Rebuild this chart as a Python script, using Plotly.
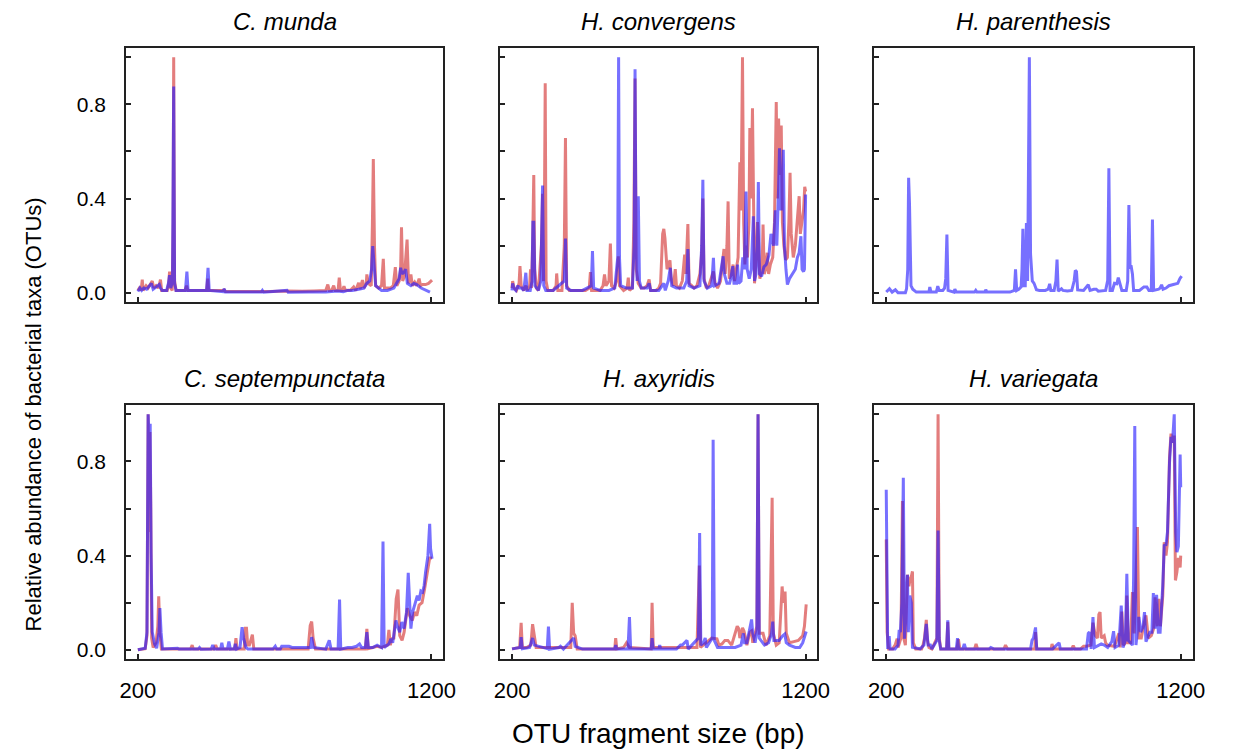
import plotly.graph_objects as go

# Relative abundance of bacterial taxa (OTUs) against OTU fragment size (bp).
# Each series is a list of (fragment size, relative abundance) pairs.

munda_red = [
    (200, .01), (205, .02), (211, .01), (215, .056), (218, .01), (228, .03), (235, .02),
    (243, .04), (249, .05), (254, .02), (262, .03), (270, .02), (277, .056), (281, .01),
    (300, .01), (305, .04), (308, .09), (312, .02), (317, .01), (320, .3), (322, 1.0),
    (325, .05), (330, .01), (360, .01), (366, .03), (370, .01), (434, .01), (438, .06),
    (441, .01), (490, .01), (494, .012), (498, .005), (560, .004), (600, .005), (625, .006),
    (650, .005), (708, .008), (760, .006), (800, .008), (840, .01), (847, .035), (852, .01),
    (860, .01), (867, .03), (872, .01), (882, .01), (886, .064), (890, .01), (897, .01),
    (902, .028), (907, .01), (925, .012), (935, .025), (942, .01), (952, .042), (957, .015),
    (965, .054), (970, .02), (978, .04), (980, .078), (985, .04), (995, .03), (999, .3),
    (1002, .568), (1006, .2), (1010, .03), (1020, .02), (1030, .03), (1036, .144), (1040, .02),
    (1060, .02), (1070, .03), (1077, .109), (1082, .03), (1090, .05), (1095, .1), (1098, .278),
    (1102, .05), (1108, .07), (1112, .13), (1117, .226), (1122, .04), (1130, .078), (1135, .03),
    (1143, .045), (1150, .03), (1158, .06), (1163, .03), (1170, .035), (1180, .035),
    (1190, .04), (1202, .054),
]
munda_blue = [
    (200, .005), (207, .02), (213, .01), (220, .02), (230, .015), (240, .03), (246, .04),
    (252, .015), (265, .03), (273, .035), (277, .02), (283, .01), (298, .01), (304, .04),
    (308, .075), (312, .02), (318, .05), (322, .876), (325, .04), (330, .01), (362, .01),
    (367, .09), (371, .01), (434, .01), (439, .106), (443, .01), (490, .005), (494, .017),
    (498, .003), (560, .002), (620, .003), (624, .01), (628, .002), (708, .01), (712, .002),
    (780, .003), (840, .003), (880, .008), (900, .005), (915, .01), (930, .01), (952, .015),
    (970, .02), (980, .04), (990, .05), (996, .1), (1000, .198), (1005, .11), (1010, .03),
    (1030, .01), (1050, .01), (1072, .02), (1080, .04), (1090, .06), (1095, .106), (1100, .08),
    (1108, .09), (1112, .1), (1118, .04), (1130, .03), (1140, .04), (1150, .035), (1165, .02),
    (1180, .01), (1195, .003),
]

convergens_red = [
    (200, .02), (202, .05), (207, .02), (215, .01), (224, .04), (227, .113), (231, .03),
    (240, .01), (247, .03), (252, .01), (260, .03), (263, .1), (266, .02), (270, .2),
    (274, .50), (277, .1), (283, .02), (290, .01), (300, .2), (304, .42), (307, .05),
    (310, .3), (313, .89), (316, .05), (322, .01), (340, .01), (350, .03), (352, .082),
    (356, .01), (370, .01), (378, .2), (382, .657), (386, .03), (395, .01), (420, .01),
    (450, .01), (463, .02), (467, .088), (471, .01), (480, .01), (500, .01), (510, .03),
    (515, .078), (520, .03), (530, .05), (535, .209), (539, .03), (548, .02), (556, .05),
    (562, .155), (566, .03), (580, .01), (592, .02), (596, .064), (600, .01), (610, .02),
    (615, .3), (619, .91), (623, .1), (630, .04), (640, .02), (650, .02), (660, .03),
    (667, .057), (672, .01), (690, .01), (700, .02), (706, .04), (713, .25), (717, .271),
    (721, .23), (728, .1), (734, .12), (738, .138), (742, .06), (750, .03), (756, .1),
    (760, .03), (770, .02), (780, .05), (788, .162), (792, .08), (799, .292), (803, .04),
    (812, .03), (820, .02), (830, .03), (840, .08), (846, .17), (850, .40), (854, .06),
    (862, .02), (870, .03), (880, .07), (886, .09), (892, .04), (900, .02), (910, .05),
    (915, .12), (919, .155), (922, .186), (926, .08), (932, .2), (936, .388), (940, .06),
    (948, .08), (953, .12), (958, .05), (965, .1), (970, .15), (976, .554), (980, .35),
    (985, 1.0), (989, .3), (993, .12), (997, .2), (1002, .15), (1007, .3), (1010, .70),
    (1014, .4), (1019, .784), (1022, .325), (1026, .04), (1032, .15), (1036, .3), (1039, .24),
    (1044, .06), (1052, .1), (1055, .29), (1059, .08), (1064, .1), (1069, .17), (1074, .08),
    (1080, .12), (1088, .15), (1094, .3), (1100, .81), (1104, .4), (1108, .74), (1112, .5),
    (1117, .71), (1121, .3), (1126, .2), (1132, .14), (1138, .15), (1143, .3), (1147, .51),
    (1151, .25), (1158, .15), (1165, .2), (1172, .3), (1178, .41), (1182, .25), (1187, .3),
    (1193, .35), (1197, .45), (1200, .43),
]
convergens_blue = [
    (200, .01), (202, .04), (206, .02), (213, .01), (220, .03), (225, .02), (232, .02),
    (240, .01), (247, .085), (251, .01), (262, .01), (268, .05), (271, .3), (274, .30),
    (278, .03), (290, .01), (298, .05), (301, .3), (304, .455), (308, .03), (315, .01),
    (340, .01), (378, .05), (382, .23), (386, .02), (400, .01), (440, .01), (470, .03),
    (474, .177), (478, .02), (500, .01), (530, .01), (550, .02), (560, .15), (563, 1.0),
    (566, .15), (570, .03), (590, .02), (610, .02), (616, .2), (619, .949), (622, .3),
    (626, .05), (630, .41), (634, .05), (640, .02), (660, .02), (667, .04), (672, .01),
    (700, .01), (717, .04), (722, .01), (732, .05), (739, .106), (744, .03), (760, .02),
    (785, .02), (795, .05), (799, .186), (803, .03), (820, .02), (840, .03), (846, .2),
    (850, .48), (854, .05), (865, .02), (880, .03), (886, .148), (890, .03), (905, .04),
    (912, .1), (919, .155), (923, .08), (932, .04), (941, .04), (945, .06), (952, .113),
    (956, .04), (965, .04), (968, .12), (972, .04), (980, .05), (986, .15), (991, .1),
    (997, .43), (1001, .1), (1008, .06), (1015, .1), (1022, .325), (1026, .05), (1031, .08),
    (1036, .2), (1039, .47), (1043, .08), (1050, .07), (1058, .11), (1066, .12), (1075, .16),
    (1082, .25), (1091, .2), (1097, .35), (1102, .2), (1108, .45), (1111, .614), (1116, .35),
    (1121, .4), (1124, .607), (1128, .2), (1133, .1), (1138, .035), (1145, .06), (1155, .08),
    (1165, .1), (1172, .15), (1178, .17), (1184, .24), (1188, .1), (1193, .09), (1196, .1),
    (1200, .417),
]

parenthesis_blue = [
    (200, .003), (211, .017), (220, .003), (231, .013), (240, 0), (265, 0), (269, .017),
    (273, .1), (276, .488), (279, .378), (284, .03), (290, .015), (302, .003), (345, .003),
    (348, .024), (352, .003), (370, .003), (375, .028), (380, .01), (392, .01), (398, .02),
    (402, .06), (406, .247), (410, .01), (430, .003), (433, .015), (438, .003), (500, .003),
    (504, .01), (508, .003), (535, .003), (538, .013), (542, .003), (620, .003), (635, .01),
    (639, .1), (643, .01), (650, .015), (658, .025), (661, .1), (664, .272), (667, .03),
    (672, .03), (676, .296), (680, .05), (683, .4), (686, 1.0), (690, .165), (696, .05),
    (702, .04), (710, .013), (720, .01), (740, .01), (750, .015), (755, .038), (759, .01),
    (770, .01), (776, .05), (780, .141), (784, .007), (795, .017), (800, .01), (815, .008),
    (830, .01), (838, .05), (842, .095), (846, .09), (850, .012), (870, .01), (886, .034),
    (892, .01), (905, .015), (913, .015), (920, .007), (935, .007), (945, .01), (952, .053),
    (956, .529), (960, .01), (968, .01), (975, .04), (983, .038), (988, .064), (993, .04),
    (1000, .01), (1015, .01), (1020, .05), (1024, .373), (1028, .109), (1032, .11),
    (1036, .08), (1040, .01), (1060, .01), (1075, .025), (1085, .025), (1092, .01),
    (1100, .01), (1104, .311), (1108, .01), (1125, .015), (1130, .02), (1135, .034),
    (1140, .015), (1150, .02), (1160, .03), (1175, .035), (1190, .04), (1197, .06),
    (1203, .071),
]

septempunctata_red = [
    (200, 0), (225, .005), (231, .06), (235, 1.0), (238, .5), (241, .925), (244, .6),
    (247, .05), (252, .01), (262, .03), (268, .1), (271, .227), (275, .07), (280, .004),
    (380, .004), (385, .02), (389, .003), (460, .003), (465, .02), (470, .003), (530, .003),
    (534, .05), (538, .003), (562, .003), (566, .092), (570, .092), (574, .02), (580, .02),
    (590, .064), (595, .003), (780, .003), (787, .103), (792, .12), (797, .05), (805, .003),
    (975, .003), (980, .089), (985, .005), (1000, .01), (1015, .015), (1030, .01), (1050, .02),
    (1055, .085), (1060, .02), (1065, .047), (1072, .05), (1080, .217), (1086, .256),
    (1092, .06), (1100, .04), (1107, .075), (1113, .14), (1118, .177), (1126, .145),
    (1135, .125), (1142, .16), (1150, .145), (1158, .19), (1168, .2), (1177, .26),
    (1186, .33), (1194, .39), (1202, .39),
]
septempunctata_blue = [
    (200, 0), (225, .007), (231, .075), (235, 1.0), (238, .897), (242, .96), (245, .41),
    (249, .075), (257, .025), (264, .007), (272, .075), (275, .177), (279, .075), (284, .004),
    (335, .007), (340, .003), (405, .003), (410, .01), (415, .002), (450, .003), (455, .02),
    (460, .003), (482, .003), (486, .03), (490, .003), (505, .003), (510, .035), (515, .003),
    (528, .004), (532, .025), (536, .003), (548, .01), (555, .096), (560, .05), (568, .01),
    (575, .003), (660, .003), (668, .015), (673, .003), (685, .003), (690, .015), (700, .015),
    (715, .015), (725, .01), (788, .01), (792, .054), (798, .01), (840, .003), (852, .04),
    (858, .003), (882, .003), (887, .214), (891, .003), (915, .01), (930, .01), (945, .015),
    (955, .025), (962, .01), (975, .01), (980, .075), (985, .01), (1000, .01), (1015, .02),
    (1030, .01), (1035, .46), (1039, .01), (1055, .025), (1062, .047), (1068, .03),
    (1079, .125), (1084, .1), (1092, .075), (1099, .118), (1107, .09), (1115, .16),
    (1121, .327), (1125, .19), (1130, .09), (1136, .16), (1145, .205), (1152, .23),
    (1158, .21), (1164, .25), (1170, .245), (1175, .272), (1180, .33), (1188, .4),
    (1194, .535), (1197, .43), (1202, .387),
]

axyridis_red = [
    (200, .004), (220, .01), (226, .01), (231, .115), (235, .01), (250, .01), (264, .02),
    (270, .109), (275, .07), (282, .01), (320, .01), (360, .01), (400, .01), (405, .2),
    (410, .07), (415, .06), (422, .004), (480, .004), (550, .004), (553, .05), (557, .004),
    (580, .01), (590, .03), (600, .01), (674, .004), (677, .2), (681, .01), (700, .01),
    (760, .01), (830, .01), (838, .358), (842, .01), (880, .05), (890, .05), (898, .047),
    (905, .02), (915, .025), (925, .04), (935, .04), (948, .02), (960, .07), (967, .1),
    (972, .09), (976, .05), (985, .093), (990, .08), (996, .047), (1000, .02), (1010, .075),
    (1016, .08), (1020, .03), (1034, .1), (1038, 1.0), (1042, .07), (1055, .07), (1065, .02),
    (1078, .06), (1082, .443), (1086, .646), (1090, .07), (1100, .02), (1110, .03),
    (1120, .269), (1124, .2), (1130, .248), (1134, .07), (1145, .03), (1160, .035),
    (1175, .04), (1190, .06), (1196, .1), (1202, .193),
]
axyridis_blue = [
    (200, .004), (228, .01), (231, .054), (235, .005), (260, .01), (270, .05), (276, .02),
    (320, .005), (324, .099), (328, .003), (360, .01), (365, .015), (375, .003), (405, .04),
    (410, .05), (415, .015), (440, .003), (550, .003), (553, .02), (557, .003), (595, .003),
    (600, .139), (604, .003), (674, .003), (677, .05), (681, .003), (700, .003), (703, .02),
    (707, .003), (760, .003), (774, .02), (780, .02), (790, .03), (796, .04), (800, .003),
    (835, .05), (839, .496), (843, .02), (852, .03), (858, .05), (862, .01), (882, .05),
    (885, .892), (889, .04), (900, .01), (940, .01), (960, .01), (980, .02), (988, .07),
    (992, .03), (1000, .03), (1016, .129), (1020, .07), (1028, .03), (1034, .08), (1038, 1.0),
    (1042, .05), (1060, .02), (1074, .03), (1084, .07), (1088, .12), (1092, .04), (1110, .04),
    (1122, .06), (1129, .067), (1134, .03), (1145, .02), (1165, .01), (1180, .01),
    (1190, .03), (1196, .055), (1202, .078),
]

variegata_red = [
    (200, .469), (203, .075), (208, .004), (222, .004), (230, .02), (237, .047), (240, .01),
    (250, .05), (255, .632), (258, .3), (260, .047), (265, .02), (268, .2), (272, .319),
    (277, .27), (281, .3), (285, .31), (289, .333), (292, .03), (300, .004), (320, .004),
    (325, .02), (330, .05), (336, .127), (340, .04), (345, .01), (355, .004), (372, .05),
    (376, 1.0), (380, .05), (385, .004), (405, .004), (409, .118), (412, .004), (440, .004),
    (445, .045), (450, .004), (500, .004), (505, .025), (510, .004), (600, .004), (605, .02),
    (612, .004), (650, .004), (705, .004), (707, .075), (711, .004), (760, .004), (763, .025),
    (768, .004), (830, .004), (835, .018), (840, .004), (860, .004), (870, .015), (880, .015),
    (895, .02), (902, .115), (910, .06), (917, .05), (922, .15), (926, .16), (930, .05),
    (940, .06), (945, .03), (950, .02), (975, .015), (990, .07), (994, .01), (1000, .162),
    (1005, .02), (1013, .03), (1017, .231), (1022, .03), (1030, .03), (1036, .245),
    (1042, .07), (1048, .3), (1053, .521), (1058, .05), (1066, .05), (1072, .09), (1082, .146),
    (1090, .05), (1100, .06), (1108, .09), (1113, .223), (1120, .1), (1126, .217), (1131, .1),
    (1139, .23), (1144, .457), (1150, .4), (1155, .457), (1162, .82), (1167, .918),
    (1172, .88), (1178, .91), (1182, .295), (1187, .33), (1192, .39), (1198, .35), (1200, .40),
]
variegata_blue = [
    (200, .68), (203, .075), (205, .004), (210, .058), (213, .004), (230, .004), (240, .02),
    (244, .085), (248, .075), (253, .2), (258, .731), (262, .047), (267, .16), (272, .319),
    (275, .075), (280, .23), (285, .2), (289, .011), (315, .004), (328, .02), (336, .11),
    (342, .02), (350, .02), (355, .004), (372, .04), (376, .507), (380, .04), (385, .004),
    (405, .004), (409, .125), (413, .004), (438, .004), (442, .05), (446, .004), (460, .004),
    (465, .025), (470, .004), (550, .004), (555, .01), (565, .004), (690, .004), (695, .04),
    (700, .05), (707, .095), (711, .004), (765, .004), (787, .03), (791, .004), (880, .004),
    (886, .07), (890, .075), (896, .004), (902, .139), (907, .01), (930, .025), (940, .02),
    (952, .01), (966, .035), (972, .079), (977, .01), (990, .02), (998, .188), (1004, .01),
    (1012, .04), (1017, .323), (1022, .04), (1036, .02), (1040, .309), (1044, .95),
    (1048, .02), (1058, .14), (1064, .075), (1072, .1), (1077, .16), (1082, .035),
    (1095, .075), (1102, .075), (1107, .241), (1113, .09), (1118, .234), (1124, .075),
    (1130, .075), (1139, .273), (1144, .443), (1150, .446), (1155, .5), (1162, .797),
    (1167, .904), (1172, .88), (1178, 1.0), (1183, .5), (1187, .415), (1192, .44),
    (1198, .829), (1200, .69),
]

species = ["C. munda", "H. convergens", "H. parenthesis",
           "C. septempunctata", "H. axyridis", "H. variegata"]
red_series = [munda_red, convergens_red, None,
              septempunctata_red, axyridis_red, variegata_red]
blue_series = [munda_blue, convergens_blue, parenthesis_blue,
               septempunctata_blue, axyridis_blue, variegata_blue]

y_ticks = [0, 0.2, 0.4, 0.6, 0.8, 1.0]
y_tick_text = ["0.0", "", "0.4", "", "0.8", ""]
x_ticks = [200, 1200]
x_tick_text = ["200", "1200"]

RED = "rgba(210, 45, 45, 0.62)"
BLUE = "rgba(35, 25, 255, 0.62)"
FONT = "Liberation Sans, Arial, Helvetica, sans-serif"
W, H = 1238, 753

# panel boxes in pixels: columns (left, right), rows (top, bottom)
cols = [(122, 444), (502, 824), (882, 1205)]
rows = [(48, 303), (406, 661)]

fig = go.Figure()
layout = dict(
    width=W, height=H, autosize=False,
    margin=dict(l=0, r=0, t=0, b=0),
    paper_bgcolor="white", plot_bgcolor="white",
    showlegend=False,
    font=dict(family=FONT, color="black"),
)
annotations = []

for i, name in enumerate(species):
    r, c = divmod(i, 3)
    k = "" if i == 0 else str(i + 1)
    xa, ya = "x" + k, "y" + k
    left, right = cols[c]
    top, bottom = rows[r]
    for series, color in ((red_series[i], RED), (blue_series[i], BLUE)):
        if series is None:
            continue
        fig.add_trace(go.Scatter(
            x=[p[0] for p in series], y=[p[1] for p in series],
            mode="lines", line=dict(color=color, width=3),
            xaxis=xa, yaxis=ya, hoverinfo="skip",
        ))
    axis_common = dict(
        showline=True, linecolor="#222222", linewidth=2, mirror=True,
        showgrid=False, zeroline=False, ticks="inside", ticklen=5,
        tickwidth=1.5, tickcolor="#222222",
    )
    layout["xaxis" + k] = dict(
        axis_common,
        domain=[left / W, right / W], range=[160, 1240],
        anchor=ya, tickvals=x_ticks,
        ticktext=x_tick_text if r == 1 else ["", ""],
        tickfont=dict(family=FONT, size=22, color="black"),
        ticklabelstandoff=10,
    )
    layout["yaxis" + k] = dict(
        axis_common,
        domain=[1 - bottom / H, 1 - top / H], range=[-0.04, 1.04],
        anchor=xa, tickvals=y_ticks,
        ticktext=y_tick_text if c == 0 else [""] * 6,
        tickfont=dict(family=FONT, size=21, color="black"),
        ticklabelstandoff=14,
    )
    annotations.append(dict(
        text="<i>%s</i>" % name, xref="paper", yref="paper",
        x=(left + right) / 2 / W, y=1 - (top - 26) / H,
        xanchor="center", yanchor="middle", showarrow=False,
        font=dict(family=FONT, size=24, color="black"),
    ))

annotations.append(dict(
    text="OTU fragment size (bp)", xref="paper", yref="paper",
    x=663 / W, y=1 - 735 / H, xanchor="center", yanchor="middle",
    showarrow=False, font=dict(family=FONT, size=28, color="black"),
))
annotations.append(dict(
    text="Relative abundance of bacterial taxa (OTUs)", xref="paper", yref="paper",
    x=28 / W, y=1 - 416 / H, xanchor="center", yanchor="middle", textangle=-90,
    showarrow=False, font=dict(family=FONT, size=22, color="black"),
))
layout["annotations"] = annotations
fig.update_layout(layout)

fig.write_html("out.html", config={"displayModeBar": False})
